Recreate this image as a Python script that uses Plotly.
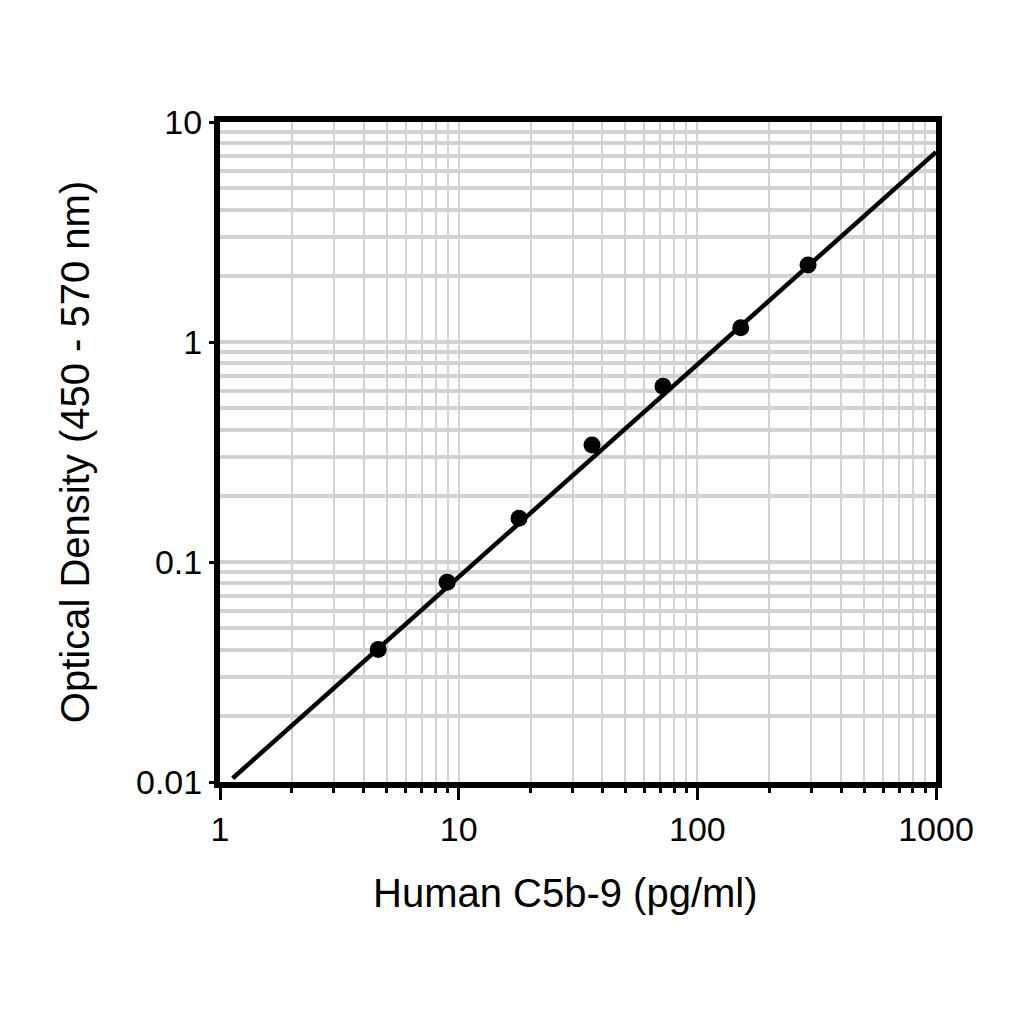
import plotly.graph_objects as go

# Standard curve data
conc = [4.6, 8.95, 17.9, 36.2, 71.8, 152, 291]
od = [0.040, 0.081, 0.158, 0.34, 0.63, 1.16, 2.24]

# Fitted line endpoints
fit_x = [1.13, 1000]
fit_y = [0.0104, 7.3]

x_ticks = [1, 10, 100, 1000]
x_labels = ["1", "10", "100", "1000"]
y_ticks = [0.01, 0.1, 1, 10]
y_labels = ["0.01", "0.1", "1", "10"]

FONT = "Liberation Sans, Arial, sans-serif"
GRID = "#d2d2d2"

fig = go.Figure()
fig.add_trace(go.Scatter(x=fit_x, y=fit_y, mode="lines",
                         line=dict(color="black", width=4.5), showlegend=False,
                         hoverinfo="skip"))
fig.add_trace(go.Scatter(x=conc, y=od, mode="markers",
                         marker=dict(color="black", size=17), showlegend=False))

fig.update_layout(
    width=1024, height=1024,
    paper_bgcolor="white", plot_bgcolor="white",
    margin=dict(l=212, r=96, t=114, b=250, autoexpand=False),
    font=dict(family=FONT, color="black"),
    annotations=[dict(text="Human C5b-9 (pg/ml)", xref="paper", yref="paper",
                      x=0.483, y=-0.168, xanchor="center", yanchor="middle",
                      showarrow=False, font=dict(size=40))],
)

fig.update_xaxes(
    type="log", range=[0, 3],
    tickvals=x_ticks, ticktext=x_labels,
    ticks="outside", ticklen=12, tickwidth=3, tickcolor="black",
    tickfont=dict(size=34),
    showline=True, linewidth=6, linecolor="black", mirror=True,
    showgrid=True, gridcolor=GRID, gridwidth=2,
    minor=dict(dtick="D1", ticks="outside", ticklen=5, tickwidth=3,
               tickcolor="black", showgrid=True, gridcolor=GRID, gridwidth=2),
    zeroline=False,
)
fig.update_yaxes(
    type="log", range=[-2, 1],
    tickvals=y_ticks, ticktext=y_labels,
    ticks="outside", ticklen=5, tickwidth=3, tickcolor="black",
    tickfont=dict(size=34),
    showline=True, linewidth=6, linecolor="black", mirror=True,
    showgrid=True, gridcolor=GRID, gridwidth=4,
    minor=dict(dtick="D1", ticks="", showgrid=True, gridcolor=GRID, gridwidth=4),
    title=dict(text="Optical Density (450 - 570 nm)", font=dict(size=40), standoff=36),
    zeroline=False,
)

fig.write_html("out.html")
